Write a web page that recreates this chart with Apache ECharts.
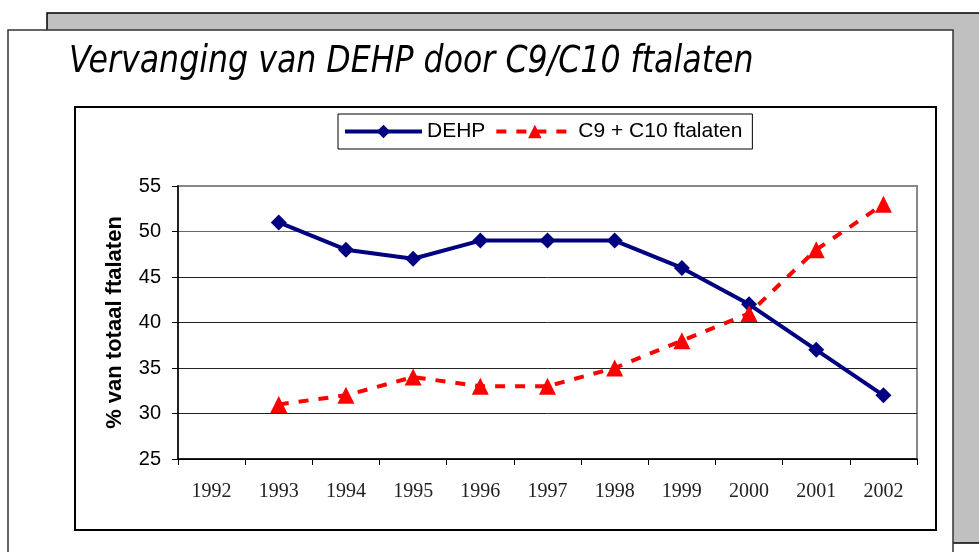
<!DOCTYPE html>
<html style="height: 100%">
<head>
<meta charset="utf-8">
</head>
<body style="height: 100%; margin: 0; background: #fff">
<div id="container" style="width: 979px; height: 552px"></div>
<script src="https://cdn.jsdelivr.net/npm/echarts@6/dist/echarts.min.js"></script>
<script>
// jaren (1992 heeft geen waarde)
var years = ['1992', '1993', '1994', '1995', '1996', '1997', '1998', '1999', '2000', '2001', '2002'];
var dehp = [null, 51, 48, 47, 49, 49, 49, 46, 42, 37, 32];
var c9c10 = [null, 31, 32, 34, 33, 33, 35, 38, 41, 48, 53];
var titleText = 'Vervanging van DEHP door C9/C10 ftalaten';
var yName = '% van totaal ftalaten';

var chart = echarts.init(document.getElementById('container'));

var option = {
    animation: false,
    backgroundColor: '#fff',
    graphic: [
        // grijze achtergrond-dia
        { type: 'rect', shape: { x: 47, y: 13, width: 960, height: 530 },
          style: { fill: '#c0c0c0', stroke: '#000', lineWidth: 1.5 }, z: -10 },
        // witte dia
        { type: 'rect', shape: { x: 8, y: 30, width: 945, height: 540 },
          style: { fill: '#fff', stroke: '#333', lineWidth: 1.5 }, z: -9 },
        // kader rond grafiek
        { type: 'rect', shape: { x: 75, y: 107, width: 861, height: 423 },
          style: { fill: '#fff', stroke: '#000', lineWidth: 2 }, z: -8 },
        { type: 'text', x: 69, y: 44, scaleX: 0.95,
          style: { text: titleText, fill: '#000', fontSize: 37, fontStyle: 'italic',
                   fontFamily: '"Liberation Sans Narrow", "DejaVu Sans Condensed", sans-serif' } }
    ],
    legend: {
        left: 338,
        top: 114,
        padding: [7, 10, 7, 5],
        itemGap: 9,
        itemWidth: 77,
        itemHeight: 17,
        backgroundColor: '#fff',
        borderColor: '#000',
        borderWidth: 1,
        lineStyle: { width: 4 },
        textStyle: { fontSize: 21, color: '#000', fontFamily: '"Liberation Sans", Arial, sans-serif' },
        data: ['DEHP', 'C9 + C10 ftalaten']
    },
    grid: {
        left: 178,
        right: 62,
        top: 186,
        bottom: 93,
        show: true,
        borderColor: '#888',
        borderWidth: 2
    },
    xAxis: {
        type: 'category',
        data: years,
        boundaryGap: true,
        axisLine: { lineStyle: { color: '#000', width: 1.5 } },
        axisTick: { show: true, length: 6, lineStyle: { color: '#000' } },
        axisLabel: { margin: 23, fontSize: 20, color: '#222',
                     fontFamily: '"Liberation Serif", "Times New Roman", serif' }
    },
    yAxis: {
        type: 'value',
        min: 25,
        max: 55,
        interval: 5,
        name: yName,
        nameLocation: 'middle',
        nameGap: 52,
        nameRotate: 90,
        nameTextStyle: { fontSize: 22, fontWeight: 'bold', color: '#000',
                         fontFamily: '"Liberation Sans", Arial, sans-serif' },
        axisLine: { show: true, lineStyle: { color: '#000', width: 1.5 } },
        axisTick: { show: true, length: 6, lineStyle: { color: '#000' } },
        axisLabel: { margin: 17, fontSize: 20, color: '#000',
                     fontFamily: '"Liberation Sans", Arial, sans-serif' },
        splitLine: { lineStyle: { color: ['#000', '#222', '#222', '#222', '#222', '#666', '#888'], width: 1 } }
    },
    series: [
        {
            name: 'DEHP',
            type: 'line',
            data: dehp,
            symbol: 'diamond',
            symbolSize: 16,
            itemStyle: { color: '#000080' },
            lineStyle: { color: '#000080', width: 4 }
        },
        {
            name: 'C9 + C10 ftalaten',
            type: 'line',
            data: c9c10,
            symbol: 'triangle',
            symbolSize: 17,
            itemStyle: { color: '#ff0000' },
            lineStyle: { color: '#ff0000', width: 4, type: [10, 10] }
        }
    ]
};

chart.setOption(option);
</script>
</body>
</html>
